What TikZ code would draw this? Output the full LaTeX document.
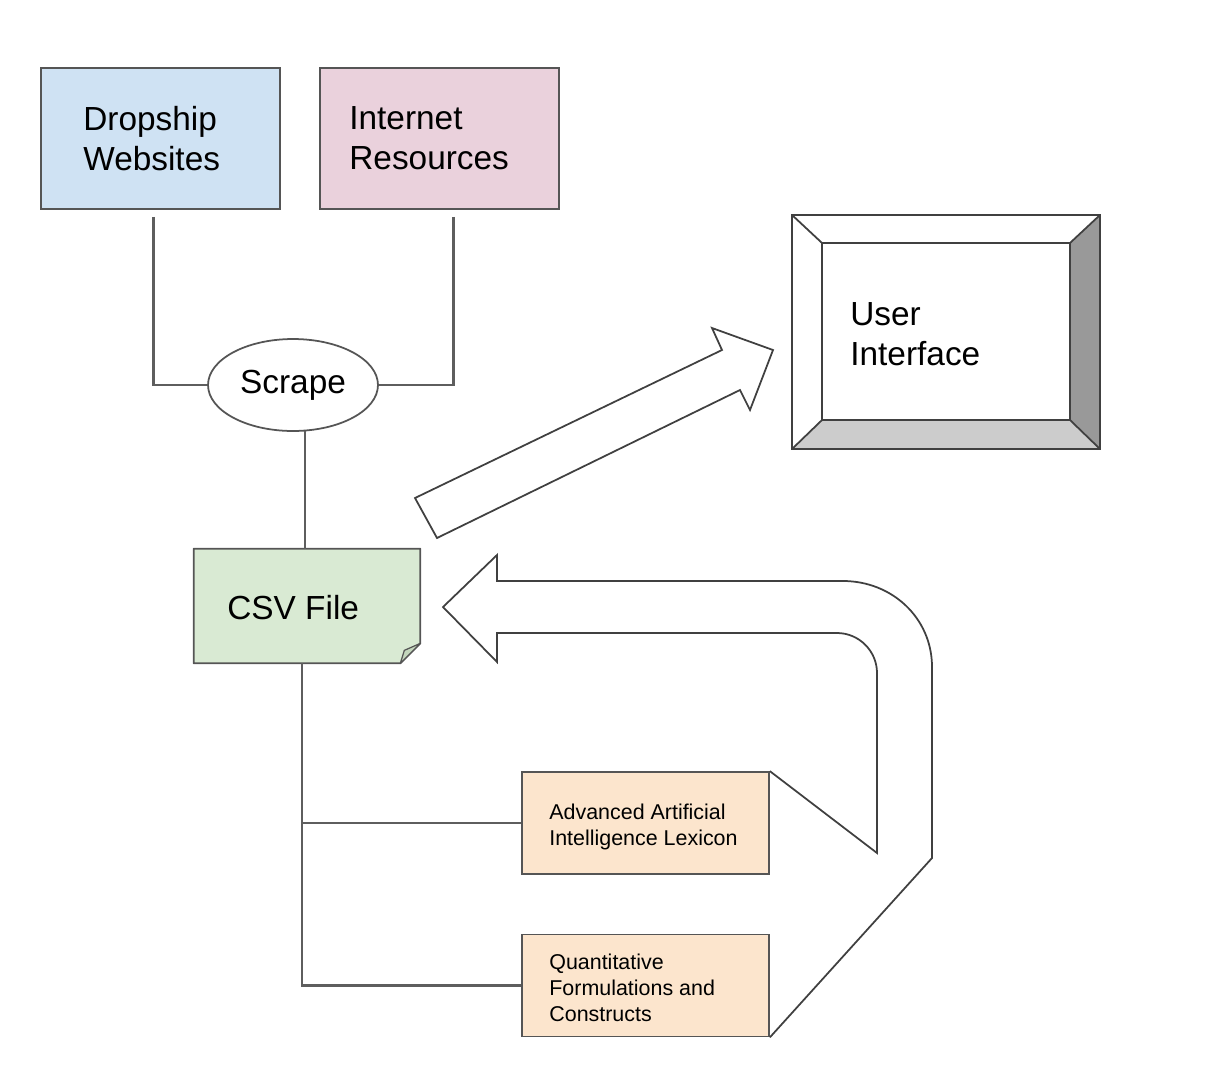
\documentclass[tikz,border=0pt]{standalone}
\usepackage{fontspec}
\setmainfont{Liberation Sans}
\usepackage{tikz}
\usepackage{xcolor}
\usetikzlibrary{shapes.geometric,calc}

\definecolor{box-line}{HTML}{555555}
\definecolor{wire-gray}{HTML}{5E5E5E}
\definecolor{arrow-line}{HTML}{404040}
\definecolor{dropship-blue}{HTML}{CFE2F3}
\definecolor{internet-pink}{HTML}{EAD1DC}
\definecolor{csv-green}{HTML}{D9EAD3}
\definecolor{csv-fold}{HTML}{C3D6BC}
\definecolor{lexicon-peach}{HTML}{FCE5CD}
\definecolor{bevel-light}{HTML}{CCCCCC}
\definecolor{bevel-dark}{HTML}{999999}

\tikzset{
    plain-box/.style = {draw=box-line, line width=1pt, rectangle, inner sep=0pt},
    source-box/.style = {plain-box, minimum width=4.78cm, minimum height=2.82cm},
    lexicon-box/.style = {plain-box, fill=lexicon-peach, minimum width=4.94cm, minimum height=2.04cm},
    big-label/.style = {anchor=north west, align=left, inner sep=0pt, font=\fontsize{19}{23}\selectfont},
    small-label/.style = {anchor=north west, align=left, inner sep=0pt, font=\fontsize{12.2}{14.6}\selectfont},
    wire/.style = {draw=wire-gray, line width=1.2pt},
    block-arrow/.style = {draw=arrow-line, line width=1pt, line join=miter},
}

\begin{document}
\begin{tikzpicture}[x=0.02cm, y=-0.02cm]
\useasboundingbox (0,0) rectangle (1226,1079);

% sources
\node[source-box, fill=dropship-blue] (dropship) at (160.5,138.5) {};
\node[big-label] (dropship-text) at (83,106) {Dropship\\Websites};
\node[source-box, fill=internet-pink] (internet) at (439.5,138.5) {};
\node[big-label] (internet-text) at (349,106) {Internet\\Resources};

\node[ellipse, draw=box-line, line width=1pt, minimum width=3.4cm, minimum height=1.84cm, inner sep=0pt, font=\fontsize{19}{23}\selectfont] (scrape) at (293,385) {Scrape};

% csv file with folded corner
\node[minimum width=4.52cm, minimum height=2.28cm, inner sep=0pt] (csv) at (307,606) {};
\filldraw[draw=box-line, fill=csv-green, line width=1pt, line join=round]
    (csv.north west) -- (csv.north east) -- ($(csv.south east)+(0,-20)$)
    -- ($(csv.south east)+(-20,0)$) -- (csv.south west) -- cycle;
\filldraw[draw=box-line, fill=csv-fold, line width=0.7pt, line join=round]
    ($(csv.south east)+(-20,0)$) -- ($(csv.south east)+(-16,-13)$) -- ($(csv.south east)+(0,-20)$) -- cycle;
\node[big-label] (csv-text) at (227,595) {CSV File};

% user interface bevel box
\node[minimum width=6.16cm, minimum height=4.68cm, inner sep=0pt] (ui) at (946,332) {};
\coordinate (ui-in-nw) at ($(ui.north west)+(30,28)$);
\coordinate (ui-in-ne) at ($(ui.north east)+(-30,28)$);
\coordinate (ui-in-se) at ($(ui.south east)+(-30,-29)$);
\coordinate (ui-in-sw) at ($(ui.south west)+(30,-29)$);
\fill[white] (ui.north west) rectangle (ui.south east);
\fill[bevel-light] (ui.south west) -- (ui.south east) -- (ui-in-se) -- (ui-in-sw) -- cycle;
\fill[bevel-dark] (ui.north east) -- (ui.south east) -- (ui-in-se) -- (ui-in-ne) -- cycle;
\draw[draw=arrow-line, line width=1.1pt] (ui.north west) rectangle (ui.south east);
\draw[draw=arrow-line, line width=1.1pt] (ui-in-nw) rectangle (ui-in-se);
\draw[draw=arrow-line, line width=1pt] (ui.north west) -- (ui-in-nw) (ui.north east) -- (ui-in-ne)
    (ui.south east) -- (ui-in-se) (ui.south west) -- (ui-in-sw);
\node[big-label] (ui-text) at (850,302) {User\\Interface};

% lexicon boxes
\node[lexicon-box] (lexicon) at (645.5,823) {};
\node[small-label] (lexicon-text) at (549,804) {Advanced Artificial\\Intelligence Lexicon};
\node[lexicon-box] (formulas) at (645.5,985.5) {};
\node[small-label] (formulas-text) at (549,954) {Quantitative\\Formulations and\\Constructs};

% connectors
\draw[wire] ($(dropship.south)+(-7,7)$) |- (scrape.west);
\draw[wire] ($(internet.south)+(14,7)$) |- (scrape.east);
\draw[wire] (scrape.-76) -- (scrape.-76 |- csv.north);
\draw[wire] ($(csv.south)+(-5,0)$) coordinate (trunk) |- (formulas.west);
\draw[wire] (trunk |- lexicon.west) -- (lexicon.west);

% block arrows
\filldraw[block-arrow, fill=white] (415,498) -- (722,350) -- (712,328) -- (773,350)
    -- (750,410) -- (740,390) -- (437,538) -- cycle;
\draw[block-arrow] (lexicon.north east) -- (877,853) -- (877,673)
    .. controls (877,651) and (859,633) .. (837,633) -- (497,633) -- (497,662)
    -- (443,607) -- (497,555) -- (497,581) -- (843,581)
    .. controls (892,581) and (932,618) .. (932,667) -- (932,858) -- (formulas.south east);
\end{tikzpicture}
\end{document}
